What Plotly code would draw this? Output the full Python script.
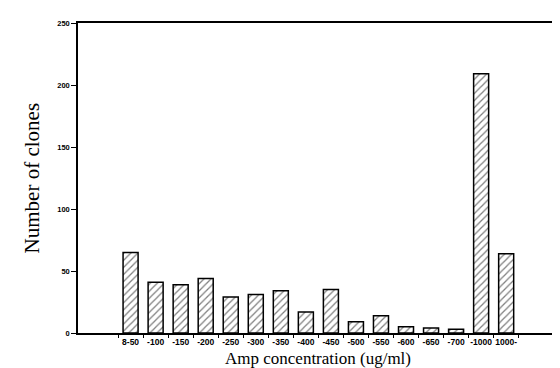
import plotly.graph_objects as go

categories = ["8-50", "-100", "-150", "-200", "-250", "-300", "-350", "-400",
              "-450", "-500", "-550", "-600", "-650", "-700", "-1000", "1000-"]
clones = [65, 41, 39, 44, 29, 31, 34, 17, 35, 9, 14, 5, 4, 3, 209, 64]
y_ticks = [0, 50, 100, 150, 200, 250]

fig = go.Figure()
fig.add_trace(go.Bar(
    x=categories, y=clones, width=0.6,
    marker=dict(color="white", line=dict(color="black", width=1.5),
                pattern=dict(shape="/", fgcolor="black", bgcolor="white", size=5, solidity=0.25)),
))

fig.update_layout(
    width=560, height=368,
    margin=dict(l=70, r=8, t=15, b=43),
    plot_bgcolor="white", paper_bgcolor="white",
    showlegend=False,
    font=dict(family="Liberation Sans", color="black"),
    annotations=[
        dict(text="Amp concentration (ug/ml)", xref="paper", yref="paper",
             x=0.5, y=-0.082, xanchor="center", yanchor="middle", showarrow=False,
             font=dict(family="Liberation Serif", size=17)),
        dict(text="Number of clones", xref="paper", yref="paper", textangle=-90,
             x=-0.095, y=0.5, xanchor="center", yanchor="middle", showarrow=False,
             font=dict(family="Liberation Serif", size=21)),
    ],
)
fig.update_xaxes(
    type="category", range=[-2.1, 17.07],
    showline=True, linecolor="black", linewidth=1.5, mirror=True,
    ticks="outside", ticklen=3, tickcolor="black", tickson="boundaries",
    tickfont=dict(size=8.5, family="Liberation Sans", weight="bold"), tickangle=0,
    showgrid=False,
)
fig.update_yaxes(
    range=[0, 250], tickvals=y_ticks,
    showline=True, linecolor="black", linewidth=1.5, mirror=True,
    ticks="outside", ticklen=5, tickcolor="black",
    tickfont=dict(size=7.5, family="Liberation Sans", weight="bold"),
    showgrid=False, zeroline=False,
)

fig.write_html("out.html")
